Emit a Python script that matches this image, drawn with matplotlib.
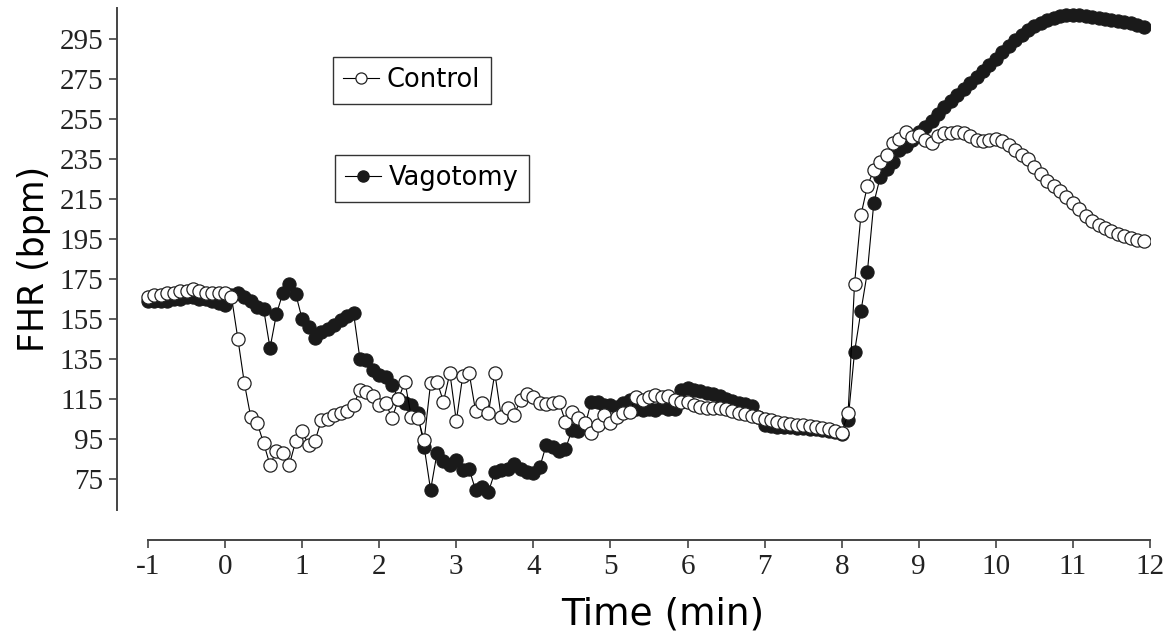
import numpy as np
import matplotlib
matplotlib.use("Agg")
import matplotlib.pyplot as plt
from matplotlib.lines import Line2D

plt.rcParams["axes.unicode_minus"] = False

# =========================
# Data (FHR, bpm), one sample every 5 s from -1 to ~12 min
# =========================
control = [
    166, 167, 167, 168, 168, 169, 169, 170, 169, 168, 168, 168,
    168, 166, 145, 123, 106, 103, 93, 82, 89, 88, 82, 94,
    99, 92, 94, 104.5, 105, 107, 108, 109, 112, 119.5, 118.7, 116.5,
    112, 113, 105.4, 115, 123.7, 106, 105.4, 94.5, 123, 123.7, 113.7, 128,
    104, 126.5, 128, 109, 113, 108, 128, 106, 110.5, 107, 114.5, 117.5,
    116, 113, 112.5, 113, 113.5, 103.6, 108.5, 105.4, 103, 98, 102, 107,
    103, 106, 108, 108.7, 116, 114.5, 116, 117, 116, 116.5, 114.5, 113.7,
    113.7, 112, 111, 110.5, 110.5, 110.5, 110, 109, 108, 107.5, 106.5, 106,
    105, 104.5, 103.5, 103, 102.5, 102, 102, 101.5, 101, 100.5, 100, 99,
    98, 108, 172.5, 207, 221.5, 229.5, 233.7, 237, 243, 245, 248.7, 246,
    247, 244.5, 243, 246.5, 248, 248, 248.5, 248, 246.5, 244.5, 244, 244.5,
    245, 244, 242, 239.5, 237, 235, 231, 227.5, 224, 221.5, 219, 216,
    213, 210, 206.5, 204, 202, 200.5, 199, 197.5, 196.5, 195.5, 194.5, 194,
]

vagotomy = [
    164, 164, 164, 164, 165, 165, 166, 166, 165, 165, 164, 163,
    162, 167, 168, 166, 164, 161, 160, 140.5, 157.5, 168, 172.5, 167.5,
    155, 151, 145.5, 148.5, 150, 152, 154.5, 156.5, 158, 135, 134.5, 129.5,
    127, 126, 122, 115, 113, 112, 108, 91, 69.5, 88, 84, 82,
    84.5, 79.5, 80, 69.5, 71, 68.5, 78.5, 79.5, 80, 82.5, 80, 78.5,
    78, 81, 92, 91, 89, 90, 99.5, 99, 101, 113.7, 113.5, 112,
    112, 111, 113, 114.5, 110, 109.5, 110, 109.5, 111, 110, 110, 119.5,
    120.5, 119.5, 119, 118, 117.5, 116.5, 115, 114, 113, 112.5, 111.5, 106,
    102, 101.5, 101, 101, 101, 100.5, 100.5, 100, 100, 99.5, 99, 98.5,
    97.5, 104.5, 138.5, 159, 178.5, 213, 226, 230, 233.7, 239.5, 241.5, 244.5,
    248.5, 251, 254, 257.5, 261, 264, 267, 270, 273, 276, 279, 282,
    285, 288.5, 291.5, 294.5, 297, 299.5, 301.5, 303, 304.5, 305.5, 306.5, 307,
    307, 307, 306.5, 306, 305.5, 305, 304.5, 304, 303.5, 303, 302, 301,
]

time_min = -1 + np.arange(len(control)) / 12.0

x_ticks = list(range(-1, 13))
y_ticks = list(range(75, 300, 20))

# =========================
# Figure
# =========================
fig = plt.figure(figsize=(11.74, 6.43), dpi=100)
ax = fig.add_axes([117 / 1174, 1 - 510 / 643, 1033 / 1174, 502 / 643])

spine_col = "#444444"
ms = 9.5

ax.plot(time_min, vagotomy, color="black", lw=0.8, marker="o", ms=ms,
        mfc="#1a1a1a", mec="#1a1a1a", mew=0.8, zorder=2)
ax.plot(time_min, control, color="black", lw=0.8, marker="o", ms=ms,
        mfc="white", mec="#222222", mew=0.9, zorder=3)

ax.set_xlim(-1.402, 12.0)
ax.set_ylim(59.5, 310.5)

for s in ["top", "right"]:
    ax.spines[s].set_visible(False)
ax.spines["bottom"].set_position(("outward", 21.6))
ax.spines["bottom"].set_bounds(-1, 12)
for s in ["left", "bottom"]:
    ax.spines[s].set_color(spine_col)
    ax.spines[s].set_linewidth(1.4)

ax.set_xticks(x_ticks)
ax.set_yticks(y_ticks)
ax.tick_params(axis="both", direction="out", length=6, width=1.2,
               color=spine_col, labelsize=21, pad=4)
for lab in ax.get_xticklabels() + ax.get_yticklabels():
    lab.set_family("Liberation Serif")
    lab.set_color("#222222")

ax.set_xlabel("Time (min)", fontsize=27, family="DejaVu Sans")
ax.xaxis.set_label_coords(0.5286, -0.172)
ax.set_ylabel("FHR (bpm)", fontsize=25, family="DejaVu Sans", labelpad=6)

# =========================
# Two separate boxed legend entries
# =========================
h_ctrl = Line2D([], [], color="black", lw=0.8, marker="o", ms=8,
                mfc="white", mec="#222222", mew=0.9)
h_vago = Line2D([], [], color="black", lw=0.8, marker="o", ms=8,
                mfc="#1a1a1a", mec="#1a1a1a")

leg1 = ax.legend([h_ctrl], ["Control"], loc="upper left",
                 bbox_to_anchor=(333 / 1174, 1 - 57 / 643),
                 bbox_transform=fig.transFigure, fancybox=False,
                 edgecolor="#333333", framealpha=1,
                 handlelength=1.4, handletextpad=0.3, borderpad=0.4,
                 borderaxespad=0, prop={"family": "DejaVu Sans", "size": 18.5})
leg1.get_frame().set_linewidth(1.0)
ax.add_artist(leg1)

leg2 = ax.legend([h_vago], ["Vagotomy"], loc="upper left",
                 bbox_to_anchor=(335 / 1174, 1 - 155 / 643),
                 bbox_transform=fig.transFigure, fancybox=False,
                 edgecolor="#333333", framealpha=1,
                 handlelength=1.4, handletextpad=0.3, borderpad=0.4,
                 borderaxespad=0, prop={"family": "DejaVu Sans", "size": 18.5})
leg2.get_frame().set_linewidth(1.0)

fig.savefig("out.png", dpi=100)
